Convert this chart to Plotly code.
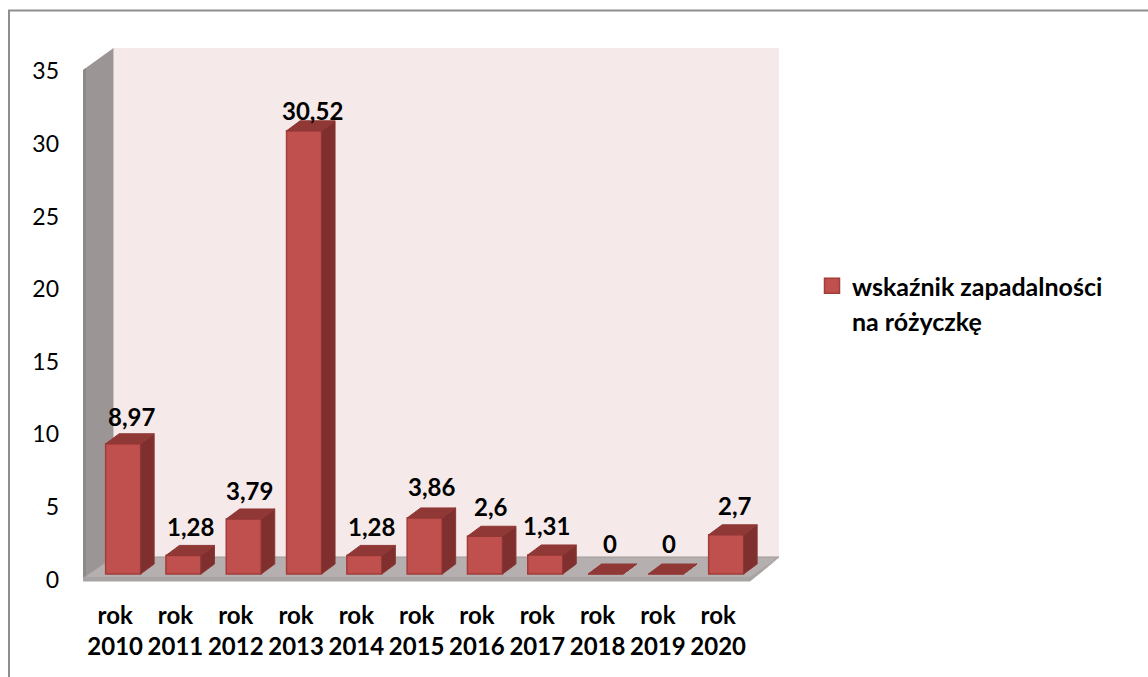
import plotly.graph_objects as go

categories = ["rok<br>2010", "rok<br>2011", "rok<br>2012", "rok<br>2013", "rok<br>2014", "rok<br>2015",
              "rok<br>2016", "rok<br>2017", "rok<br>2018", "rok<br>2019", "rok<br>2020"]
values = [8.97, 1.28, 3.79, 30.52, 1.28, 3.86, 2.6, 1.31, 0, 0, 2.7]
value_labels = ["8,97", "1,28", "3,79", "30,52", "1,28", "3,86", "2,6", "1,31", "0", "0", "2,7"]
y_ticks = [0, 5, 10, 15, 20, 25, 30, 35]
series_name = "wskaźnik zapadalności"
series_name_line2 = "na różyczkę"

W, H = 1148, 677
PLOT_L, PLOT_R, PLOT_T, PLOT_B = 83, 780, 47, 582
PX_X = 60.3          # pixels per category
PX_Y = 14.52         # pixels per unit
X0_PX, Y0_PX = 85, 579.5
FONT = "Lato"
BAR_SHIFT = 8 / PX_X
BAR_W = 35 / PX_X
BASE = 5.5 / PX_Y
DX, DY = 13.5 / PX_X, 10 / PX_Y
# label offsets relative to the bar, in pixels
label_dx = [8, 7, 6, 8, 7, 6.5, 6, 1, 4, 3, 9]
label_dy = [27, 29, 28, 20, 29, 31, 30, 29, 31, 31, 29]

def px(x): return x / W
def py(y): return 1 - y / H
def poly(points, close=True):
    return "M" + " L".join(f"{px(a):.5f},{py(b):.5f}" for a, b in points) + (" Z" if close else "")

centers = [i + 0.5 + BAR_SHIFT for i in range(len(values))]

sx, sy, tx, ty = [], [], [], []
for c, v in zip(centers, values):
    l, r = c - BAR_W / 2, c + BAR_W / 2
    b, t = BASE, BASE + v
    sx += [r, r + DX, r + DX, r, r, None]
    sy += [b, b + DY, t + DY, t, b, None]
    tx += [l, l + DX, r + DX, r, l, None]
    ty += [t, t + DY, t + DY, t, t, None]

fig = go.Figure()
fig.add_bar(x=centers, y=values, base=BASE, width=BAR_W, name=series_name, showlegend=False,
            marker=dict(color="#C0504D", line=dict(color="#A33D3A", width=1.5)), hoverinfo="skip")
fig.add_scatter(x=sx, y=sy, mode="lines", fill="toself", fillcolor="#7F302E",
                line=dict(color="#8A3735", width=1), showlegend=False, hoverinfo="skip")
fig.add_scatter(x=tx, y=ty, mode="lines", fill="toself", fillcolor="#8F3836",
                line=dict(color="#8F3836", width=1), showlegend=False, hoverinfo="skip")
fig.add_scatter(x=[None], y=[None], mode="markers", name=series_name,
                marker=dict(symbol="square", size=15, color="#C0504D", line=dict(color="#A33D3A", width=1.5)))

ref = dict(type="path", xref="paper", yref="paper", layer="below")
shapes = [
    dict(ref, path=poly([(113.5, 48), (779, 48), (779, 558), (113.5, 558)]),
         fillcolor="#F5E9E9", line=dict(width=0)),
    dict(ref, path=poly([(83, 70), (113.5, 48), (113.5, 558), (83, 578)]),
         fillcolor="#9C9595", line=dict(width=0)),
    dict(ref, path=poly([(83, 70), (86, 68), (86, 578), (83, 581)]),
         fillcolor="#8F8A8A", line=dict(width=0)),
    dict(ref, path=poly([(83, 578), (113.5, 557), (779, 557), (750, 578)]),
         fillcolor="#B6AFAF", line=dict(color="#A09A9A", width=1)),
    dict(ref, path=poly([(83, 577), (750, 577), (779, 558), (750, 581.5), (83, 581.5)]),
         fillcolor="#A8A4A4", line=dict(width=0)),
    dict(ref, path=poly([(9, 677), (9, 10.5), (1148, 10.5)], close=False),
         line=dict(color="#8E8E8E", width=2)),
]

annotations = [
    dict(x=c, y=BASE + v, xref="x", yref="y", text=t, showarrow=False,
         xshift=dx, yshift=dy, yanchor="middle", xanchor="center",
         font=dict(family=FONT, size=24, color="black", weight=700))
    for c, v, t, dx, dy in zip(centers, values, value_labels, label_dx, label_dy)
]
annotations.append(dict(x=px(849.5), y=py(320.5), xref="paper", yref="paper", text=series_name_line2,
                        showarrow=False, xanchor="left", yanchor="middle",
                        font=dict(family=FONT, size=25, color="black", weight=700)))

fig.update_layout(
    width=W, height=H, autosize=False, margin=dict(l=0, r=0, t=0, b=0, pad=0),
    paper_bgcolor="white", plot_bgcolor="rgba(0,0,0,0)",
    shapes=shapes, annotations=annotations, showlegend=True,
    legend=dict(x=px(812), y=py(263), xanchor="left", yanchor="top", itemclick=False,
                font=dict(family=FONT, size=25, color="black", weight=700),
                bgcolor="rgba(0,0,0,0)"),
    xaxis=dict(domain=[px(PLOT_L), px(PLOT_R)],
               range=[(PLOT_L - X0_PX) / PX_X, (PLOT_R - X0_PX) / PX_X], automargin=False,
               tickmode="array", tickvals=[i + 0.5 for i in range(len(categories))], ticktext=categories,
               showgrid=False, zeroline=False, showline=False, ticks="",
               tickfont=dict(family=FONT, size=24, color="black", weight=700), ticklabelstandoff=17),
    yaxis=dict(domain=[py(PLOT_B), py(PLOT_T)], automargin=False,
               range=[(Y0_PX - PLOT_B) / PX_Y, (Y0_PX - PLOT_T) / PX_Y],
               tickmode="array", tickvals=y_ticks, ticktext=[str(t) for t in y_ticks],
               showgrid=False, zeroline=False, showline=False, ticks="",
               tickfont=dict(family=FONT, size=23, color="black"), ticklabelstandoff=23),
)
fig.write_html("out.html", post_script="document.body.style.margin='0';",
               config=dict(displayModeBar=False))
